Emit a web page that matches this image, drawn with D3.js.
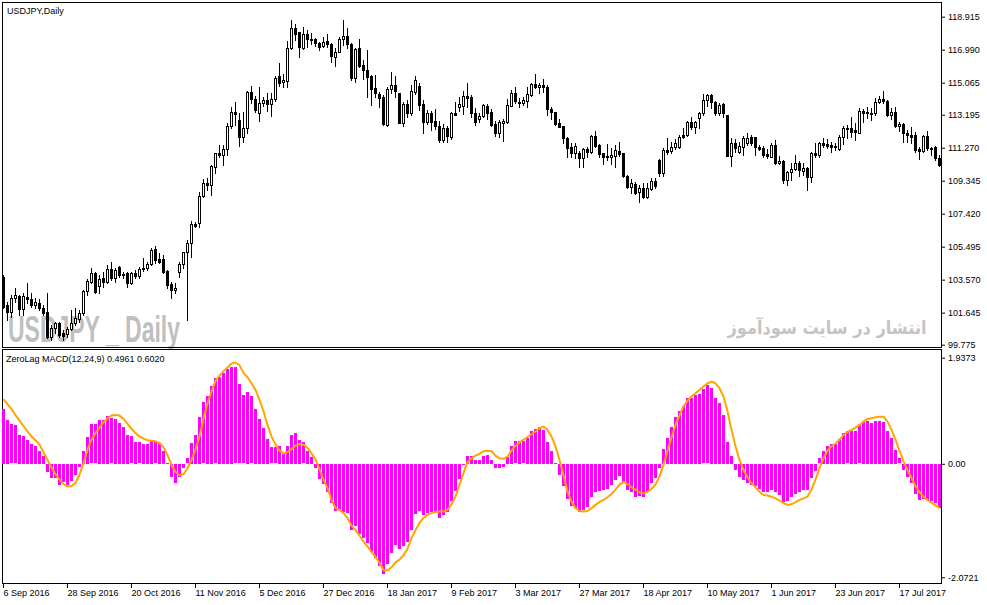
<!DOCTYPE html>
<html>
<head>
<meta charset="utf-8">
<script src="https://cdnjs.cloudflare.com/ajax/libs/d3/7.8.5/d3.min.js"></script>
<style>
  body { margin: 0; background: #fff; }
  svg { display: block; font-family: "Liberation Sans", Arial, sans-serif; }
</style>
</head>
<body>
<svg width="987" height="605"></svg>
<script>
// USDJPY daily candles (one entry per bar)
var opens = [103.75,102.09,101.70,102.48,102.62,101.84,102.58,102.44,102.09,102.19,
101.92,101.70,100.25,100.73,101.02,100.44,100.38,100.67,101.06,101.26,
101.61,102.91,103.45,103.98,103.20,103.65,103.45,104.21,103.69,104.33,
103.90,103.94,103.40,103.98,103.79,104.27,104.23,104.49,105.34,104.78,
104.78,104.10,103.32,102.97,104.00,104.47,105.17,105.69,106.82,106.86,
108.45,109.23,109.08,110.17,110.98,110.85,111.18,112.54,113.34,112.89,
111.92,112.40,114.50,114.09,113.28,113.86,114.05,113.80,114.09,115.46,
115.09,115.18,117.07,118.24,118.00,117.11,117.91,117.60,117.60,117.40,
117.21,117.52,117.32,116.58,116.88,117.60,117.79,117.32,115.36,117.07,
116.10,115.81,115.46,114.74,114.40,114.25,112.60,114.68,114.93,114.44,
112.73,113.82,113.28,114.54,114.87,113.80,112.79,113.32,112.83,112.54,
111.72,112.40,111.92,113.28,113.63,113.70,114.29,114.21,113.28,112.95,
113.12,113.70,113.34,112.66,112.15,112.73,112.79,113.72,114.44,113.96,
113.90,114.02,114.35,114.97,114.79,114.93,114.83,113.53,113.36,112.73,
112.54,111.86,111.33,110.94,110.98,110.65,111.20,111.04,111.95,111.43,
110.94,110.79,110.71,110.79,111.08,110.94,109.64,109.00,109.15,108.71,
108.90,108.41,108.84,109.33,110.55,109.78,111.14,111.08,111.33,111.33,
112.01,112.01,112.75,112.50,112.99,113.28,114.05,114.35,113.96,113.32,
113.80,113.18,110.81,111.53,111.04,111.33,111.53,111.92,111.88,111.33,
111.27,110.90,110.75,111.43,110.36,110.50,109.39,109.83,110.01,110.36,
109.93,110.07,109.58,110.98,110.85,111.53,111.49,111.43,111.39,111.18,
111.88,112.40,112.40,112.30,112.15,113.41,113.36,113.28,113.28,113.92,
114.11,114.00,113.18,113.37,112.54,112.66,112.11,112.01,112.01,111.18,
111.10,111.95,111.27,111.33,110.65];
var highs = [103.84,102.29,102.68,103.07,102.68,102.77,103.36,102.77,102.48,102.44,
102.09,102.77,100.93,101.12,101.12,100.63,100.83,101.80,101.90,101.80,
102.97,103.63,104.23,104.04,103.84,104.04,104.43,104.62,104.23,104.39,
104.04,104.04,104.04,104.14,104.33,104.82,104.62,105.40,105.54,105.11,
105.01,104.14,103.45,103.40,104.62,105.21,105.89,107.01,106.96,108.71,
109.43,109.48,110.26,110.98,111.43,111.43,112.69,113.63,113.96,113.28,
113.37,114.60,114.87,114.29,114.79,114.21,114.44,114.44,115.46,116.23,
115.57,117.50,118.72,118.49,118.04,118.30,118.14,117.95,117.69,117.46,
117.71,117.91,117.36,117.07,117.71,118.72,118.24,117.36,117.07,117.62,
116.39,116.97,115.51,115.51,114.54,114.35,114.79,115.71,115.46,114.44,
113.96,114.05,114.93,115.46,115.03,114.05,113.47,113.41,113.51,112.83,
112.66,112.54,113.37,113.96,114.21,114.60,115.03,114.35,113.57,113.28,
113.82,113.82,113.51,112.85,112.89,112.93,114.09,114.64,114.79,114.15,
114.21,114.79,115.03,115.57,115.03,115.26,114.93,113.63,113.37,112.93,
112.54,111.88,111.53,111.53,111.10,111.23,111.33,112.01,112.25,111.47,
110.94,111.49,111.23,111.43,111.60,110.98,109.68,109.43,109.29,109.10,
109.23,109.19,109.48,109.48,110.59,111.23,111.82,111.62,111.76,112.01,
112.40,112.85,113.08,112.83,113.37,114.40,114.40,114.40,114.02,113.90,
113.86,113.18,111.82,111.76,111.62,111.95,112.15,112.01,111.92,111.43,
111.37,111.18,111.53,111.72,110.79,110.55,109.93,110.36,110.85,110.50,
110.36,110.17,111.04,111.53,111.62,111.86,111.76,111.62,111.53,112.01,
112.54,112.60,113.04,112.69,113.57,113.51,113.67,113.57,114.15,114.31,
114.58,114.05,113.57,113.67,112.79,112.69,112.30,112.50,112.21,111.33,
112.01,112.25,111.33,111.37,110.85];
var lows = [101.90,101.22,101.41,102.29,101.51,101.51,102.19,102.00,101.90,101.80,
101.51,100.15,100.05,100.44,100.25,100.05,100.25,100.63,100.93,101.12,
101.51,102.68,103.36,102.81,102.77,103.16,103.36,103.55,103.45,103.75,
103.65,103.16,103.32,103.65,103.65,104.10,104.14,104.43,104.53,104.53,
103.94,103.07,102.52,102.81,103.75,104.23,101.22,104.91,106.66,106.66,
108.41,108.80,108.51,109.82,110.75,110.26,110.85,112.40,112.60,111.39,
111.62,112.11,113.86,113.37,112.85,113.70,113.43,113.14,114.02,114.87,
114.79,114.79,117.03,117.56,116.58,117.03,117.17,117.32,117.23,116.97,
117.13,117.17,116.29,116.06,116.84,117.26,117.11,115.22,115.13,116.00,
115.26,114.25,113.76,114.21,113.67,112.60,112.54,114.44,114.25,112.69,
112.54,113.08,113.18,114.40,113.47,112.11,112.66,112.30,112.34,111.62,
111.62,111.62,111.76,113.15,113.43,113.24,113.67,113.08,112.60,112.79,
113.08,112.93,112.54,111.95,111.92,111.68,112.73,113.70,113.86,113.63,
113.76,113.63,114.31,114.74,114.48,114.54,113.18,112.93,112.60,112.46,
111.53,110.75,110.71,110.65,110.13,110.17,110.75,110.98,111.29,110.75,
110.30,110.55,110.30,110.17,110.79,109.58,108.90,108.65,108.55,108.12,
108.32,108.36,108.80,108.90,109.62,109.64,110.88,110.98,111.18,111.23,
111.82,111.95,112.34,112.11,112.44,113.18,113.70,113.57,113.18,113.18,
113.08,110.81,110.22,111.04,110.94,110.85,111.43,111.43,110.85,111.14,
110.71,110.65,110.71,110.32,110.32,109.19,109.10,109.39,109.97,109.62,
109.68,108.80,109.29,110.75,110.75,111.33,111.23,111.04,111.14,111.14,
111.49,111.86,111.92,111.72,112.11,112.79,112.99,112.89,113.18,113.86,
113.90,113.12,112.93,112.46,112.27,111.62,111.62,111.53,111.04,110.59,
111.04,111.14,110.85,110.55,110.20];
var closes = [102.00,101.70,102.48,102.68,101.84,102.62,102.44,102.09,102.29,101.90,
101.61,100.25,100.73,101.02,100.34,100.30,100.69,101.06,101.32,101.65,
102.91,103.49,103.94,102.87,103.59,103.45,104.17,103.69,104.14,103.84,
103.84,103.40,103.94,103.79,104.17,104.17,104.49,105.30,104.72,104.58,
104.04,103.26,102.97,103.07,104.47,105.17,105.69,106.82,106.70,108.45,
109.23,109.08,110.20,110.94,110.85,111.18,112.54,113.34,113.22,111.92,
112.40,114.50,114.09,113.47,113.86,114.05,113.80,114.09,115.32,115.07,
115.22,117.07,118.24,117.91,117.13,117.91,117.60,117.56,117.36,117.13,
117.46,117.30,116.62,116.84,117.60,117.79,117.30,115.32,117.03,116.06,
115.81,115.42,114.70,114.48,114.19,112.64,114.70,114.93,114.60,112.73,
113.82,113.32,114.58,115.22,113.76,112.79,113.32,112.79,112.54,111.72,
112.40,111.95,113.28,113.18,113.82,114.29,114.19,113.28,112.79,113.12,
113.76,113.32,112.60,112.15,112.75,112.83,113.76,114.44,114.02,113.90,
114.05,114.39,114.97,114.83,114.93,114.79,113.51,113.34,112.66,112.50,
111.82,111.27,110.98,111.37,110.69,111.20,111.04,111.95,111.37,110.88,
110.75,110.71,110.85,111.14,110.90,109.64,109.00,109.19,108.61,108.90,
108.41,108.90,109.33,109.04,109.78,111.14,111.04,111.33,111.57,111.92,
111.88,112.75,112.50,112.75,113.28,114.05,114.35,113.96,113.32,113.76,
113.28,110.81,111.53,111.23,111.39,111.86,111.86,111.53,111.33,111.20,
110.85,110.81,111.43,110.40,110.50,109.39,109.83,110.03,110.36,109.97,
110.11,109.58,110.94,110.85,111.57,111.43,111.39,111.33,111.33,111.92,
112.44,112.44,112.21,112.21,113.43,113.28,113.28,113.24,113.92,114.11,
113.98,113.18,113.34,112.56,112.64,112.11,112.01,111.92,111.14,111.10,
111.95,111.23,111.20,110.65,110.26];

// ZeroLag MACD(12,24,9): histogram and signal line
var histValues = [1.00,0.80,0.72,0.70,0.53,0.51,0.44,0.37,0.33,0.24,
0.15,-0.14,-0.25,-0.26,-0.38,-0.33,-0.38,-0.31,-0.20,-0.05,
0.24,0.49,0.72,0.72,0.80,0.80,0.88,0.83,0.82,0.75,
0.68,0.53,0.50,0.40,0.39,0.37,0.36,0.42,0.39,0.38,
0.23,0.01,-0.23,-0.35,-0.24,-0.08,0.10,0.38,0.53,0.85,
1.12,1.24,1.42,1.56,1.59,1.66,1.73,1.77,1.76,1.45,
1.25,1.31,1.23,1.00,0.82,0.65,0.45,0.30,0.30,0.33,
0.18,0.33,0.53,0.56,0.44,0.39,0.24,0.12,-0.07,-0.27,
-0.37,-0.51,-0.72,-0.85,-0.82,-0.87,-0.89,-1.21,-1.14,-1.27,
-1.36,-1.45,-1.61,-1.71,-1.86,-2.00,-1.83,-1.62,-1.48,-1.55,
-1.50,-1.42,-1.21,-0.91,-0.85,-0.94,-0.90,-0.87,-0.87,-0.99,
-0.93,-0.88,-0.67,-0.49,-0.27,-0.01,0.15,0.15,0.07,0.07,
0.15,0.16,0.07,-0.07,-0.07,-0.05,0.13,0.32,0.41,0.42,
0.41,0.47,0.60,0.64,0.67,0.62,0.40,0.23,0.01,-0.20,
-0.41,-0.63,-0.77,-0.81,-0.87,-0.84,-0.78,-0.60,-0.51,-0.49,
-0.47,-0.46,-0.38,-0.30,-0.22,-0.34,-0.47,-0.52,-0.60,-0.58,
-0.60,-0.51,-0.35,-0.26,-0.07,0.27,0.48,0.68,0.85,0.97,
1.06,1.21,1.21,1.26,1.28,1.36,1.43,1.38,1.21,1.11,
0.89,0.40,0.15,-0.11,-0.24,-0.29,-0.34,-0.38,-0.41,-0.46,
-0.52,-0.51,-0.47,-0.52,-0.57,-0.69,-0.68,-0.60,-0.54,-0.51,
-0.47,-0.47,-0.26,-0.12,0.10,0.24,0.32,0.36,0.36,0.46,
0.56,0.59,0.60,0.60,0.72,0.79,0.79,0.74,0.79,0.79,
0.76,0.60,0.47,0.26,0.10,-0.11,-0.24,-0.35,-0.55,-0.66,
-0.64,-0.66,-0.67,-0.72,-0.81];
var signalValues = [1.18,1.09,1.00,0.89,0.79,0.69,0.59,0.50,0.43,0.35,
0.21,0.07,-0.07,-0.19,-0.29,-0.37,-0.41,-0.41,-0.35,-0.20,
0.01,0.26,0.44,0.56,0.66,0.76,0.83,0.88,0.89,0.88,
0.82,0.73,0.64,0.56,0.50,0.46,0.43,0.42,0.41,0.38,
0.30,0.16,-0.02,-0.15,-0.21,-0.19,-0.08,0.07,0.26,0.50,
0.82,1.11,1.32,1.52,1.61,1.69,1.76,1.83,1.85,1.80,
1.66,1.58,1.47,1.35,1.17,0.96,0.71,0.50,0.35,0.24,
0.19,0.21,0.27,0.33,0.36,0.35,0.29,0.19,0.08,-0.10,
-0.29,-0.44,-0.66,-0.81,-0.84,-0.90,-0.99,-1.13,-1.21,-1.31,
-1.42,-1.51,-1.61,-1.70,-1.81,-1.94,-1.95,-1.89,-1.80,-1.75,
-1.67,-1.55,-1.36,-1.21,-1.08,-0.99,-0.93,-0.90,-0.88,-0.87,
-0.87,-0.84,-0.74,-0.60,-0.38,-0.17,0.03,0.10,0.15,0.18,
0.23,0.24,0.23,0.15,0.10,0.09,0.13,0.24,0.33,0.39,
0.44,0.49,0.54,0.59,0.65,0.68,0.62,0.50,0.32,0.07,
-0.21,-0.51,-0.69,-0.81,-0.86,-0.87,-0.86,-0.81,-0.75,-0.70,
-0.66,-0.61,-0.55,-0.47,-0.38,-0.33,-0.37,-0.43,-0.47,-0.52,
-0.54,-0.51,-0.46,-0.38,-0.23,-0.02,0.24,0.48,0.71,0.89,
1.05,1.15,1.23,1.29,1.35,1.41,1.47,1.50,1.47,1.38,
1.23,0.96,0.62,0.32,0.07,-0.11,-0.25,-0.35,-0.43,-0.51,
-0.57,-0.58,-0.60,-0.63,-0.67,-0.72,-0.75,-0.74,-0.70,-0.66,
-0.63,-0.60,-0.47,-0.29,-0.08,0.10,0.24,0.32,0.37,0.44,
0.53,0.58,0.62,0.66,0.71,0.77,0.82,0.83,0.85,0.86,
0.86,0.77,0.62,0.44,0.24,0.05,-0.11,-0.26,-0.41,-0.52,
-0.60,-0.66,-0.71,-0.76,-0.81];

// axis labels
var timeTickBars = [0,16,32,48,64,80,96,112,128,144,160,176,192,208,224];
var timeTickLabels = ["6 Sep 2016","28 Sep 2016","20 Oct 2016","11 Nov 2016","5 Dec 2016",
  "27 Dec 2016","18 Jan 2017","9 Feb 2017","3 Mar 2017","27 Mar 2017","18 Apr 2017",
  "10 May 2017","1 Jun 2017","23 Jun 2017","17 Jul 2017"];
var priceTicks = [118.915,116.990,115.065,113.195,111.270,109.345,107.420,105.495,103.570,101.645,99.775];
var macdTicks = [1.9373, 0, -2.0721];
var macdTickLabels = ["1.9373", "0.00", "-2.0721"];

var svg = d3.select("svg"),
    left = 2, right = 941,
    mainTop = 2, mainBottom = 347,
    subTop = 349, subBottom = 583;

var data = opens.map(function(o, i) {
  return {i: i, o: o, h: highs[i], l: lows[i], c: closes[i], hist: histValues[i], sig: signalValues[i]};
});

// 4px per bar, like the terminal's zoom level
var x = d3.scaleLinear()
    .domain([0, data.length - 1])
    .range([3, 3 + 4 * (data.length - 1)]);

var y = d3.scaleLinear()
    .domain([99.775, 118.915])
    .range([344.7, 16.7]);

var ym = d3.scaleLinear()
    .domain([-2.0721, 1.9373])
    .range([577.3, 357.7]);

// watermarks sit behind everything
svg.append("text")
    .attr("x", 8)
    .attr("y", 342)
    .attr("font-family", "'Liberation Sans Narrow', 'Liberation Sans', sans-serif")
    .attr("font-weight", "bold")
    .attr("font-size", 36)
    .attr("textLength", 172)
    .attr("lengthAdjust", "spacingAndGlyphs")
    .attr("fill", "#bfbfbf")
    .text("USDJPY _ Daily");

svg.append("text")
    .attr("x", 827)
    .attr("y", 334)
    .attr("text-anchor", "middle")
    .attr("font-family", "'DejaVu Sans', sans-serif")
    .attr("font-weight", "bold")
    .attr("font-size", 18)
    .attr("textLength", 199)
    .attr("lengthAdjust", "spacingAndGlyphs")
    .attr("fill", "#c4c4c4")
    .text("انتشار در سایت سودآموز");

// panel frames
svg.append("rect")
    .attr("x", left + 0.5).attr("y", mainTop + 0.5)
    .attr("width", right - left).attr("height", mainBottom - mainTop)
    .attr("fill", "none").attr("stroke", "#000");

svg.append("rect")
    .attr("x", left + 0.5).attr("y", subTop + 0.5)
    .attr("width", right - left).attr("height", subBottom - subTop)
    .attr("fill", "none").attr("stroke", "#000");

// candles
var candles = svg.append("g")
    .attr("shape-rendering", "crispEdges")
    .selectAll("g")
    .data(data)
    .enter().append("g");

candles.append("line")
    .attr("x1", function(d) { return Math.round(x(d.i)) + 0.5; })
    .attr("x2", function(d) { return Math.round(x(d.i)) + 0.5; })
    .attr("y1", function(d) { return Math.round(y(d.h)); })
    .attr("y2", function(d) { return Math.round(y(d.l)) + 1; })
    .attr("stroke", "#000");

candles.append("rect")
    .each(function(d) {
      var cx = Math.round(x(d.i)),
          top = Math.round(y(Math.max(d.o, d.c))),
          bot = Math.round(y(Math.min(d.o, d.c)));
      var r = d3.select(this);
      if (d.c >= d.o) {
        // bull: white body with black outline
        r.attr("x", cx - 0.5).attr("y", top + 0.5)
         .attr("width", 2).attr("height", Math.max(1, bot - top))
         .attr("fill", "#fff").attr("stroke", "#000");
      } else {
        r.attr("x", cx - 1).attr("y", top)
         .attr("width", 3).attr("height", Math.max(1, bot - top + 1))
         .attr("fill", "#000");
      }
    });

// MACD histogram
svg.append("g")
    .attr("shape-rendering", "crispEdges")
    .selectAll("rect")
    .data(data)
    .enter().append("rect")
    .attr("x", function(d) { return Math.round(x(d.i)) - 1; })
    .attr("y", function(d) { return Math.round(Math.min(ym(0), ym(d.hist))); })
    .attr("width", 3)
    .attr("height", function(d) { return Math.max(1, Math.round(Math.abs(ym(d.hist) - ym(0)))); })
    .attr("fill", "#ff00ff");

// signal line
svg.append("path")
    .datum(data)
    .attr("fill", "none")
    .attr("stroke", "#ffa500")
    .attr("stroke-width", 2)
    .attr("stroke-linejoin", "round")
    .attr("d", d3.line()
        .x(function(d) { return x(d.i) + 0.5; })
        .y(function(d) { return ym(d.sig); }));

// price axis
svg.append("g")
    .attr("transform", "translate(" + (right + 1) + ",0)")
    .call(d3.axisRight(y).tickValues(priceTicks).tickSize(3).tickPadding(3).tickFormat(d3.format(".3f")))
    .call(function(g) { g.select(".domain").remove(); })
    .attr("font-family", null)
    .attr("font-size", 9);

svg.append("g")
    .attr("transform", "translate(" + (right + 1) + ",0)")
    .call(d3.axisRight(ym).tickValues(macdTicks).tickSize(3).tickPadding(3)
        .tickFormat(function(d, i) { return macdTickLabels[i]; }))
    .call(function(g) { g.select(".domain").remove(); })
    .attr("font-family", null)
    .attr("font-size", 9);

// time axis
svg.append("g")
    .attr("transform", "translate(0," + (subBottom + 1) + ")")
    .call(d3.axisBottom(x).tickValues(timeTickBars).tickSize(4).tickPadding(2)
        .tickFormat(function(d, i) { return timeTickLabels[i]; }))
    .call(function(g) { g.select(".domain").remove(); })
    .attr("font-family", null)
    .attr("font-size", 9)
    .selectAll("text")
    .attr("text-anchor", "start")
    .attr("x", 0);

// titles
svg.append("text")
    .attr("x", 7)
    .attr("y", 14)
    .attr("font-size", 9)
    .text("USDJPY,Daily");

svg.append("text")
    .attr("x", 6)
    .attr("y", 362)
    .attr("font-size", 9)
    .text("ZeroLag MACD(12,24,9) 0.4961 0.6020");
</script>
</body>
</html>
